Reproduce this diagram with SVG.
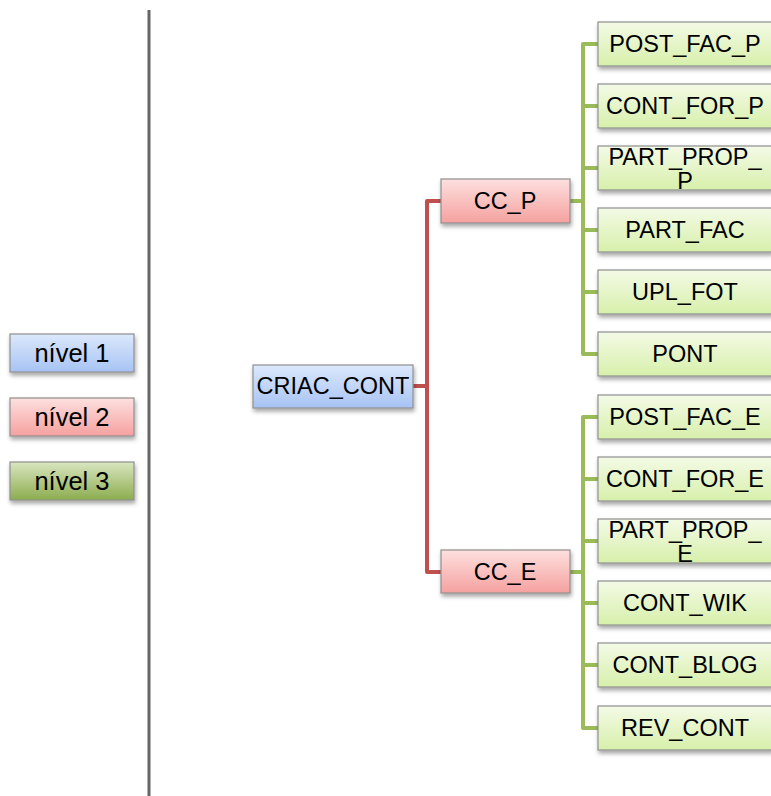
<svg xmlns="http://www.w3.org/2000/svg" width="771" height="796" viewBox="0 0 771 796">
<defs>
<linearGradient id="gBlue" x1="0" y1="0" x2="0" y2="1"><stop offset="0" stop-color="#dce8fc"/><stop offset="1" stop-color="#a7c3f4"/></linearGradient>
<linearGradient id="gRed" x1="0" y1="0" x2="0" y2="1"><stop offset="0" stop-color="#fde0df"/><stop offset="1" stop-color="#f5a19f"/></linearGradient>
<linearGradient id="gGreenD" x1="0" y1="0" x2="0" y2="1"><stop offset="0" stop-color="#d9e6c0"/><stop offset="1" stop-color="#8cad4f"/></linearGradient>
<linearGradient id="gGreenL" x1="0" y1="0" x2="0" y2="1"><stop offset="0" stop-color="#f4fae6"/><stop offset="1" stop-color="#d7f0ab"/></linearGradient>
<filter id="sh" x="-10%" y="-20%" width="120%" height="160%"><feDropShadow dx="1" dy="3" stdDeviation="2" flood-color="#000" flood-opacity="0.35"/></filter>
</defs>
<style>
.box{stroke:#8f8f8f;stroke-width:1.2;filter:url(#sh)}
.b{fill:url(#gBlue)}.r{fill:url(#gRed)}.gd{fill:url(#gGreenD)}.gl{fill:url(#gGreenL)}
text{font-family:"Liberation Sans",Arial,sans-serif;font-size:23.5px;fill:#000;text-anchor:middle}
.leg{font-size:25.5px}
.red{fill:none;stroke:#c0504d;stroke-width:4;stroke-linejoin:round;stroke-linecap:round}
.grn{fill:none;stroke:#9bbb59;stroke-width:4;stroke-linejoin:round;stroke-linecap:round}
</style>
<rect width="771" height="796" fill="#fff"/>
<line x1="149" y1="10" x2="149" y2="796" stroke="#666" stroke-width="3"/>
<g id="legend1"><rect class="box b" x="10" y="334" width="124" height="38"/><text class="leg" x="72" y="362">nível 1</text></g>
<g id="legend2"><rect class="box r" x="10" y="398" width="124" height="38"/><text class="leg" x="72" y="426">nível 2</text></g>
<g id="legend3"><rect class="box gd" x="10" y="462" width="124" height="38"/><text class="leg" x="72" y="490">nível 3</text></g>
<g id="connectors">
<path class="red" d="M413 386 H427 M441 201 H427 V572 H441"/>
<path class="grn" d="M570 201 H583 M598 44 H583 V354 H598 M583 106 H598 M583 168 H598 M583 230 H598 M583 292 H598"/>
<path class="grn" d="M570 572 H583 M598 417 H583 V728 H598 M583 479 H598 M583 541 H598 M583 603 H598 M583 665 H598"/>
</g>
<g id="CRIAC_CONT"><rect class="box b" x="253" y="365" width="160" height="43"/><text x="333" y="394">CRIAC_CONT</text></g>
<g id="CC_P"><rect class="box r" x="441" y="179" width="129" height="44"/><text x="505" y="209">CC_P</text></g>
<g id="CC_E"><rect class="box r" x="441" y="550" width="129" height="43"/><text x="505" y="580">CC_E</text></g>
<g id="POST_FAC_P"><rect class="box gl" x="598" y="22" width="174" height="44"/><text x="685" y="52">POST_FAC_P</text></g>
<g id="CONT_FOR_P"><rect class="box gl" x="598" y="84" width="174" height="44"/><text x="685" y="114">CONT_FOR_P</text></g>
<g id="PART_PROP_P"><rect class="box gl" x="598" y="146" width="174" height="44"/><text x="685" y="164.5">PART_PROP_</text><text x="685" y="189">P</text></g>
<g id="PART_FAC"><rect class="box gl" x="598" y="208" width="174" height="44"/><text x="685" y="238">PART_FAC</text></g>
<g id="UPL_FOT"><rect class="box gl" x="598" y="270" width="174" height="44"/><text x="685" y="300">UPL_FOT</text></g>
<g id="PONT"><rect class="box gl" x="598" y="332" width="174" height="44"/><text x="685" y="362">PONT</text></g>
<g id="POST_FAC_E"><rect class="box gl" x="598" y="395" width="174" height="44"/><text x="685" y="425">POST_FAC_E</text></g>
<g id="CONT_FOR_E"><rect class="box gl" x="598" y="457" width="174" height="44"/><text x="685" y="487">CONT_FOR_E</text></g>
<g id="PART_PROP_E"><rect class="box gl" x="598" y="519" width="174" height="44"/><text x="685" y="537.5">PART_PROP_</text><text x="685" y="562">E</text></g>
<g id="CONT_WIK"><rect class="box gl" x="598" y="581" width="174" height="44"/><text x="685" y="611">CONT_WIK</text></g>
<g id="CONT_BLOG"><rect class="box gl" x="598" y="643" width="174" height="44"/><text x="685" y="673">CONT_BLOG</text></g>
<g id="REV_CONT"><rect class="box gl" x="598" y="706" width="174" height="44"/><text x="685" y="736">REV_CONT</text></g>
</svg>
